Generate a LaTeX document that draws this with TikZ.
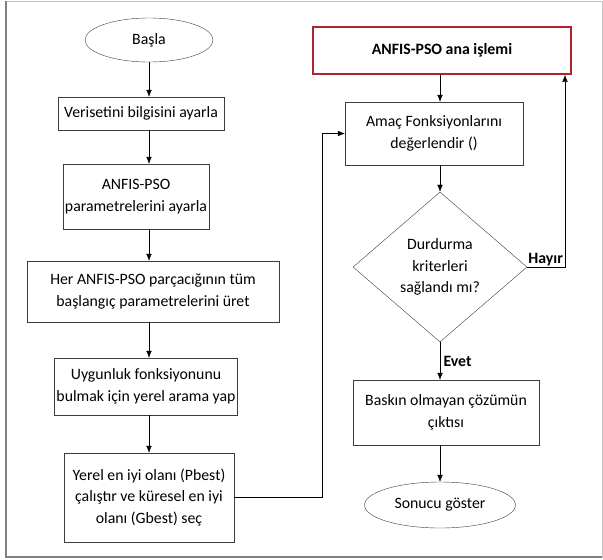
\documentclass[tikz,border=0pt]{standalone}
\usepackage{fontspec}
\setmainfont{Carlito}
\usetikzlibrary{shapes.geometric,arrows.meta}
\definecolor{boxline}{RGB}{60,60,60}
\definecolor{redline}{RGB}{175,35,45}

\begin{document}
\begin{tikzpicture}[x=1pt, y=-1pt, >={Latex[length=7pt,width=5.5pt]}, font=\fontsize{15.8}{21.5}\selectfont]
        \tikzstyle{step box} = [rectangle, draw=boxline, align=center, inner sep=2pt]
        \tikzstyle{terminal} = [ellipse, draw=boxline, inner sep=0pt]
        \tikzstyle{bold label} = [font=\fontsize{15.8}{21.5}\selectfont\bfseries]
        \useasboundingbox (0,0) rectangle (603,560);
        \draw[gray!45, line width=0.8pt] (6,1) rectangle (602,557);
        \draw[gray, line width=2pt] (6,1) -- (6,557) -- (602,557);
        % left column
        \node[terminal, minimum width=128, minimum height=44] (1) at (149,40) {Başla};
        \node[step box, minimum width=166, minimum height=33] (2) at (141,113.5) {Verisetini bilgisini ayarla};
        \node[step box, minimum width=132, minimum height=65] (3) at (136,196.5) {ANFIS-PSO\\parametrelerini ayarla};
        \node[step box, minimum width=252, minimum height=61] (4) at (153,291.5) {Her ANFIS-PSO parçacığının tüm\\başlangıç parametrelerini üret};
        \node[step box, minimum width=176, minimum height=57] (5) at (146,386.5) {Uygunluk fonksiyonunu\\bulmak için yerel arama yap};
        \node[step box, minimum width=170, minimum height=89] (6) at (149,497.5) {Yerel en iyi olanı (Pbest)\\çalıştır ve küresel en iyi\\olanı (Gbest) seç};
        % right column
        \node[rectangle, draw=redline, line width=1.8pt, minimum width=258, minimum height=47, bold label] (7) at (442,50.5) {ANFIS-PSO ana işlemi};
        \node[step box, minimum width=178, minimum height=63] (8) at (434,133.5) {Amaç Fonksiyonlarını\\değerlendir ()};
        \node[diamond, draw=boxline, minimum width=174, minimum height=150, aspect=1.16, inner sep=0pt, align=center] (9) at (440,267) {Durdurma\\kriterleri\\sağlandı mı?};
        \node[step box, minimum width=186, minimum height=65] (10) at (446,412.5) {Baskın olmayan çözümün\\çıktısı};
        \node[terminal, minimum width=151, minimum height=46] (11) at (440,505) {Sonucu göster};
        \coordinate (k1) at (322,0);
        \coordinate (k2) at (565,0);
        \path[->]
                (1) edge (1 |- 2.north)
                (1 |- 2.south) edge (1 |- 3.north)
                (1 |- 3.south) edge (1 |- 4.north)
                (1 |- 4.south) edge (1 |- 5.north)
                (1 |- 5.south) edge (1 |- 6.north)
                (9 |- 7.south) edge (9 |- 8.north)
                (9 |- 8.south) edge (9)
                (9) edge node[right, bold label] {Evet} (9 |- 10.north)
                (11 |- 10.south) edge (11);
        \draw[->] (6.east) -| (k1 |- 8.west) -- (8.west);
        \draw[->] (9.east) -| (k2 |- 7.south);
        \node[anchor=south west, inner sep=1pt, bold label] (12) at (9.east) {Hayır};
\end{tikzpicture}
\end{document}
